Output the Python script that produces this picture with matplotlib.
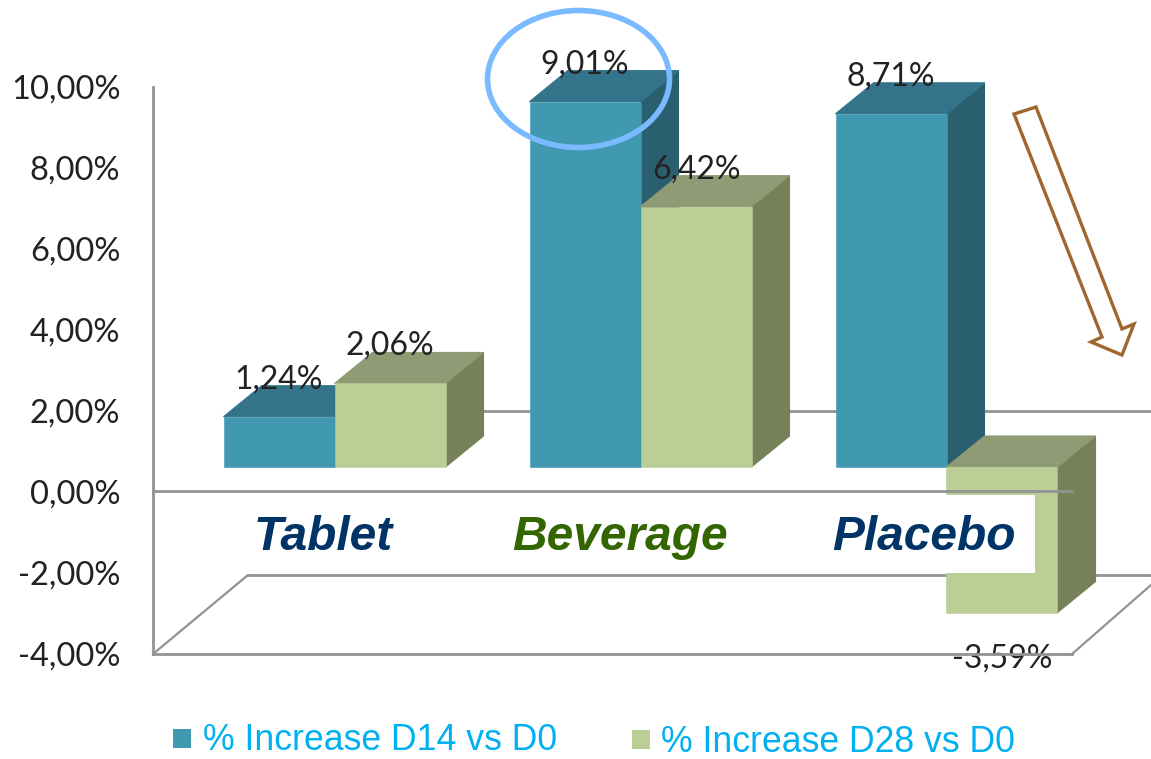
import matplotlib
matplotlib.use('Agg')
import matplotlib.pyplot as plt
import numpy as np
from matplotlib.patches import Ellipse, Polygon, Rectangle
from matplotlib.ticker import FuncFormatter, MultipleLocator

# values
categories = ['Tablet', 'Beverage', 'Placebo']
category_colors = ['#003366', '#336600', '#003366']
d14_values = [1.24, 9.01, 8.71]
d28_values = [2.06, 6.42, -3.59]
series_names = ['% Increase D14 vs D0', '% Increase D28 vs D0']

W, H = 1151, 759
UNIT_Y = 40.55    # pixels per percentage point
UNIT_X = 306.0    # pixels between groups
BASE_Y = 467      # pixel row of zero on the front plane
FIRST_X = 334.5   # pixel column of first group
DEPTH_X = 38 / UNIT_X
DEPTH_Y = 31 / UNIT_Y
BAR_W = 111 / UNIT_X

plt.rcParams['font.family'] = ['Liberation Sans', 'DejaVu Sans']
LABEL_FONT = ['Lato', 'DejaVu Sans']
GRAY = '#939393'

fig = plt.figure(figsize=(W / 100, H / 100), dpi=100, facecolor='white')

# back wall with the value axis
ax_wall = fig.add_axes([153 / W, (H - 654) / H, (1072 - 153) / W, (654 - 87) / H], zorder=1)
ax_wall.set_ylim(-4, 10)
ax_wall.set_xlim(153, 1072)
ax_wall.patch.set_visible(False)
for s in ['top', 'right', 'bottom']:
    ax_wall.spines[s].set_visible(False)
ax_wall.spines['left'].set_color(GRAY)
ax_wall.spines['left'].set_linewidth(2)
ax_wall.xaxis.set_visible(False)
ax_wall.yaxis.set_major_locator(MultipleLocator(2))
ax_wall.yaxis.set_major_formatter(FuncFormatter(lambda v, _: f'{v:.2f}%'.replace('.', ',')))
ax_wall.tick_params(axis='y', length=0, pad=23.5, labelsize=23.5, labelcolor='#222222')
for t in ax_wall.get_yticklabels():
    t.set_family(LABEL_FONT)
for level in [2, -2.05]:
    ax_wall.plot([248, W], [level, level], color=GRAY, lw=2, clip_on=False)

# bars, in category / percent units
ax_bars = fig.add_axes([0, 0, 1, 1], zorder=2)
ax_bars.set_xlim(-FIRST_X / UNIT_X, (W - FIRST_X) / UNIT_X)
ax_bars.set_ylim((BASE_Y - H) / UNIT_Y, BASE_Y / UNIT_Y)
ax_bars.axis('off')
ax_bars.patch.set_visible(False)


def draw_series(values, shift, front, top, side):
    xs = np.arange(len(values)) + shift
    for x, v in zip(xs, values):
        left, right = x - BAR_W / 2, x + BAR_W / 2
        hi, lo = max(v, 0), min(v, 0)
        ax_bars.add_patch(Polygon([(right, hi), (right + DEPTH_X, hi + DEPTH_Y),
                                   (right + DEPTH_X, lo + DEPTH_Y), (right, lo)],
                                  color=side, lw=0.8, zorder=3))
        ax_bars.add_patch(Polygon([(left, hi), (right, hi), (right + DEPTH_X, hi + DEPTH_Y),
                                   (left + DEPTH_X, hi + DEPTH_Y)], color=top, lw=0.8, zorder=3))
        ax_bars.annotate(f'{v:.2f}%'.replace('.', ','), (x, v), xytext=(0, 27 if v > 0 else -33),
                         textcoords='offset points', ha='center', va='center', fontsize=23,
                         family=LABEL_FONT, color='#222222', zorder=6)
    ax_bars.bar(xs, values, width=BAR_W, color=front, edgecolor=front, lw=0.4, zorder=3)


draw_series(d14_values, -BAR_W / 2, '#4198B1', '#34748A', '#2A5F70')
draw_series(d28_values, BAR_W / 2, '#BACE95', '#8E9B74', '#768059')

# front plane, labels and annotations in pixel coordinates
ax = fig.add_axes([0, 0, 1, 1], zorder=3)
ax.set_xlim(0, W)
ax.set_ylim(H, 0)
ax.axis('off')
ax.patch.set_visible(False)

ax.add_patch(Rectangle((900, 495), 135, 78, color='white', lw=0, zorder=1))
ax.plot([153, 1072], [490.5, 490.5], color=GRAY, lw=2, zorder=2)
ax.plot([153, 1072], [654, 654], color=GRAY, lw=2, zorder=2)
ax.plot([153, 248], [654, 575], color=GRAY, lw=1.6, zorder=2)
ax.plot([1072, 1151], [654, 585], color=GRAY, lw=1.6, zorder=2)

for name, col, xc in zip(categories, category_colors, [323, 620, 924]):
    ax.text(xc, 538, name, color=col, fontsize=34.5, fontweight='bold', fontstyle='italic',
            ha='center', va='center', zorder=3)

# circle and arrow
ax.add_patch(Ellipse((578.5, 79), 182, 137, fill=False, ec='#7ABAFF', lw=4, zorder=4))
arrow_x = [1014, 1036, 1122, 1134, 1122, 1091, 1102]
arrow_y = [114, 107, 329, 324, 355, 342, 337]
ax.add_patch(Polygon(np.column_stack([arrow_x, arrow_y]), closed=True, fill=False,
                     ec='#A0662F', lw=2.4, joinstyle='miter', zorder=4))

# legend
ax.add_patch(Rectangle((173, 729), 18, 19, color='#4198B1', lw=0))
ax.add_patch(Rectangle((632, 730), 18, 19, color='#BACE95', lw=0))
ax.text(203, 750, series_names[0], color='#00B0F0', fontsize=25.7, ha='left', va='baseline')
ax.text(661, 752, series_names[1], color='#00B0F0', fontsize=25.7, ha='left', va='baseline')

fig.savefig('out.png', dpi=100)
